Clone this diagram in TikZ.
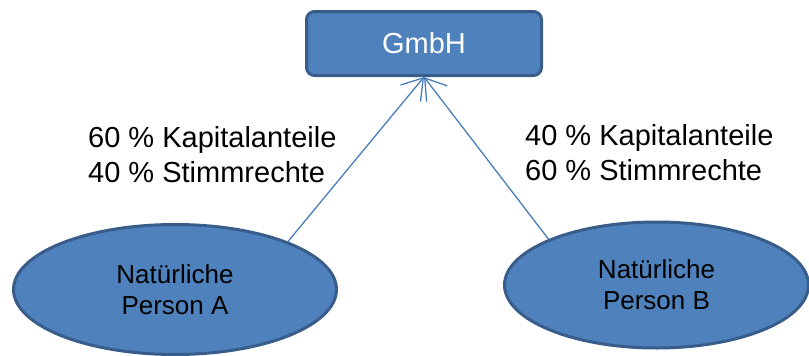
\documentclass[tikz,border=0pt]{standalone}
\usepackage{fontspec}
\setmainfont{Liberation Sans}
\usetikzlibrary{shapes.geometric,arrows.meta}
\definecolor{boxblau}{HTML}{4F81BD}
\definecolor{boxrand}{HTML}{385D8A}
\definecolor{linie}{HTML}{4A7EBB}

\begin{document}
\begin{tikzpicture}[x=1pt,y=-1pt,
        firm/.style={rectangle, draw=boxrand, fill=boxblau, line width=3pt, rounded corners=8pt,
            minimum width=235pt, minimum height=64pt, text=white, font=\fontsize{29}{35}\selectfont},
        person/.style={ellipse, draw=boxrand, fill=boxblau, line width=3pt, align=center,
            font=\fontsize{26}{31}\selectfont},
        anteil/.style={anchor=base west, align=left, inner sep=0pt, font=\fontsize{29}{35}\selectfont},
        link/.style={draw=linie, line width=1.3pt, -{Straight Barb[length=20pt,width=26pt]}}]
        \useasboundingbox (0,0) rectangle (809,356);
        \node[firm] (gmbh) at (424,43.5) {GmbH};
        \node[person, minimum width=323pt, minimum height=130pt] (pa) at (175,289.5) {Natürliche\\Person A};
        \node[person, minimum width=304pt, minimum height=126pt] (pb) at (656.5,285) {Natürliche\\Person B};
        \node[anteil] (la) at (88,182) {60 \% Kapitalanteile\\40 \% Stimmrechte};
        \node[anteil] (lb) at (525,180) {40 \% Kapitalanteile\\60 \% Stimmrechte};
        \draw[link] (pa.23) -- (gmbh.south);
        \draw[link] (pb.157) -- (gmbh.south);
    \end{tikzpicture}
\end{document}
